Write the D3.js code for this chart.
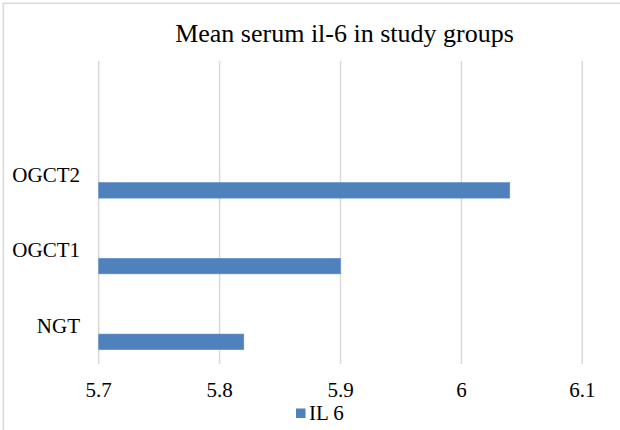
<!DOCTYPE html>
<html><head><meta charset="utf-8">
<script src="https://cdn.jsdelivr.net/npm/d3@7"></script>
<style>html,body{margin:0;padding:0;background:#fff;}svg{display:block;} svg text{font-family:"Liberation Serif","Times New Roman",serif;}</style>
</head><body>
<svg id="chart" width="620" height="430"></svg>
<script>
// Data
const categories = ["NGT", "OGCT1", "OGCT2", ""];
const seriesName = "IL 6";
const values = [5.82, 5.90, 6.04, null];
const xTicks = [5.7, 5.8, 5.9, 6.0, 6.1];
const chartTitle = "Mean serum il-6 in study groups";

const svg = d3.select("#chart");

// outer border (chart area, cropped at right/bottom)
svg.append("rect").attr("x", 3.3).attr("y", 3.3).attr("width", 640).attr("height", 450)
  .attr("fill", "#fff").attr("stroke", "#d9d9d9").attr("stroke-width", 1.6);

const pLeft = 98.7, pRight = 582.3, pTop = 61, pBottom = 364;
const x = d3.scaleLinear().domain([5.7, 6.1]).range([pLeft, pRight]);
const y = d3.scaleBand().domain(categories).range([pBottom, pTop]);

// gridlines
svg.append("g").selectAll("line").data(xTicks).join("line")
  .attr("x1", d => x(d)).attr("x2", d => x(d))
  .attr("y1", pTop).attr("y2", pBottom)
  .attr("stroke", "#d9d9d9").attr("stroke-width", 1.5);

// bars
const data = categories.map((c, i) => ({cat: c, v: values[i]})).filter(d => d.v != null);
const bw = y.bandwidth();
svg.append("g").selectAll("rect").data(data).join("rect")
  .attr("x", x(5.7))
  .attr("y", d => y(d.cat) + bw * 0.605)
  .attr("width", d => x(d.v) - x(5.7))
  .attr("height", bw * 0.205)
  .attr("fill", "#4f81bd")
  .attr("stroke", "#5b8cc6").attr("stroke-width", 0.6);

// category labels
svg.append("g").selectAll("text").data(categories.filter(c => c)).join("text")
  .attr("x", 80).attr("y", d => y(d) + bw / 2 + 7)
  .attr("text-anchor", "end")
  .style("font-size", "21px").attr("fill", "#000")
  .text(d => d);

// x tick labels
svg.append("g").selectAll("text").data(xTicks).join("text")
  .attr("x", d => x(d)).attr("y", 397)
  .attr("text-anchor", "middle")
  .style("font-size", "21px").attr("fill", "#000")
  .text(d => d3.format("")(+d.toFixed(1)));

// title
svg.append("text").attr("x", 344.5).attr("y", 42)
  .attr("text-anchor", "middle")
  .style("font-size", "26px").attr("fill", "#000")
  .text(chartTitle);

// legend
const lg = svg.append("g");
lg.append("rect").attr("x", 296).attr("y", 408.5).attr("width", 9.5).attr("height", 9.5).attr("fill", "#4f81bd");
lg.append("text").attr("x", 309).attr("y", 420)
  .style("font-size", "21px").attr("fill", "#000")
  .text(seriesName);
</script>
</body></html>
